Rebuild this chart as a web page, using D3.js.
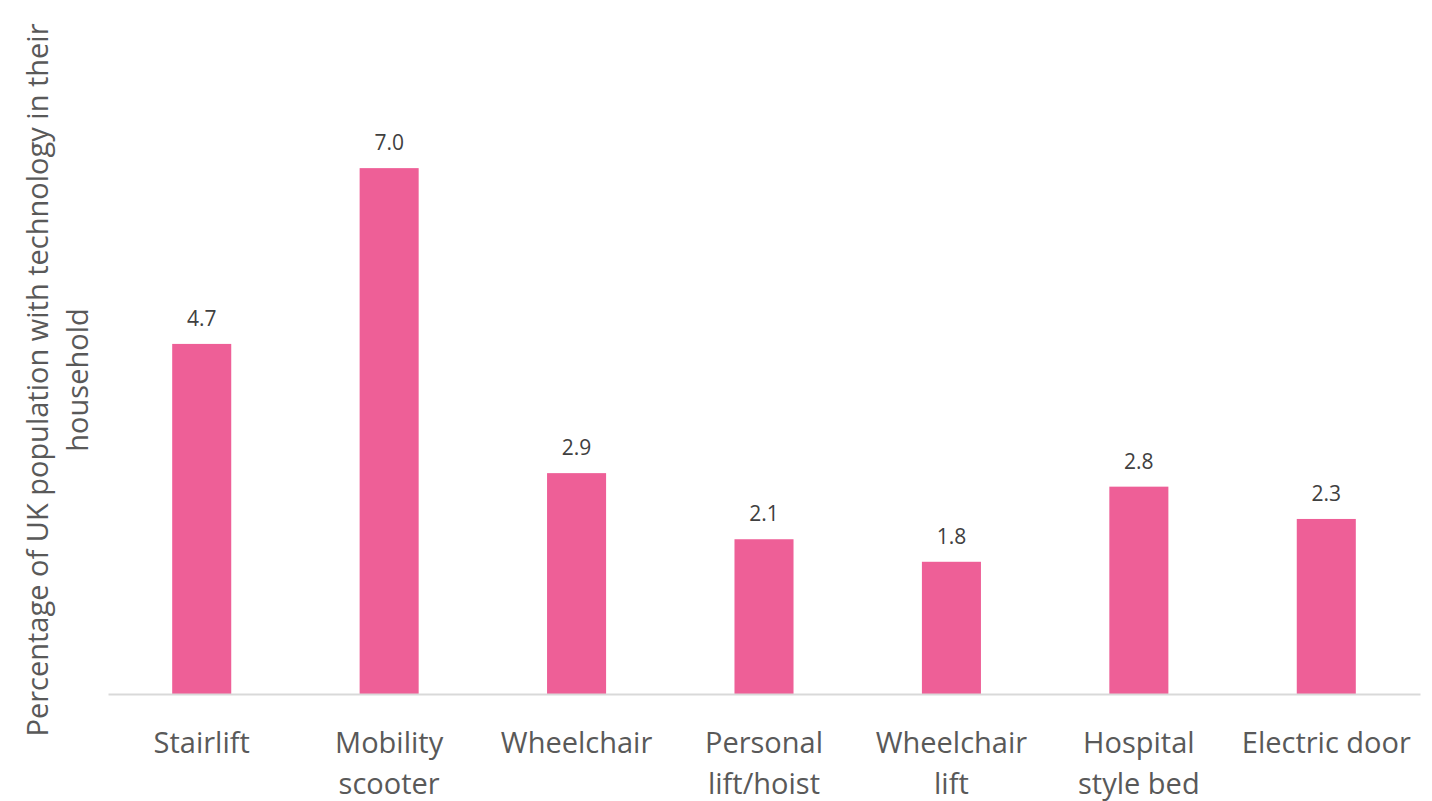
<!DOCTYPE html>
<html>
<head>
<meta charset="utf-8">
<script src="https://cdn.jsdelivr.net/npm/d3@7"></script>
<style>
  body { margin: 0; background: #fff; }
  text { font-family: "Open Sans", "Noto Sans", sans-serif; }
</style>
</head>
<body>
<svg id="chart" width="1432" height="801"></svg>
<script>
// categories, each split on the line break shown in the picture
var categories = ["Stairlift", "Mobility scooter", "Wheelchair", "Personal lift/hoist", "Wheelchair lift", "Hospital style bed", "Electric door"];
var categoryLines = [["Stairlift"], ["Mobility", "scooter"], ["Wheelchair"], ["Personal", "lift/hoist"], ["Wheelchair", "lift"], ["Hospital", "style bed"], ["Electric door"]];
// percentage values (labels shown to 1dp)
var values = [4.66, 7.0, 2.94, 2.06, 1.76, 2.76, 2.33];
var yTitleLines = ["Percentage of UK population with technology in their", "household"];

var svg = d3.select("#chart");
var left = 108, right = 1420, base = 694;

var x = d3.scaleBand().domain(categories).range([left, right]).paddingInner(0.685).paddingOuter(0.3425);
var y = d3.scaleLinear().domain([0, 8]).range([base, 93]);

// bars
svg.selectAll(".bar")
  .data(values)
  .enter().append("rect")
  .attr("class", "bar")
  .attr("x", function(d, i) { return x(categories[i]); })
  .attr("y", function(d) { return y(d); })
  .attr("width", x.bandwidth())
  .attr("height", function(d) { return y(0) - y(d); })
  .attr("fill", "#ee5f97");

// value labels
svg.selectAll(".val")
  .data(values)
  .enter().append("text")
  .attr("class", "val")
  .attr("x", function(d, i) { return x(categories[i]) + x.bandwidth() / 2; })
  .attr("y", function(d) { return y(d) - 18; })
  .attr("text-anchor", "middle")
  .attr("font-size", 21)
  .attr("fill", "#404040")
  .text(function(d) { return d.toFixed(1); });

// x axis, line only
var xAxis = svg.append("g")
  .attr("transform", "translate(0," + base + ")")
  .call(d3.axisBottom(x).tickSize(0).tickFormat(""));
xAxis.select(".domain").attr("stroke", "#d9d9d9").attr("stroke-width", 2);

// category labels
var cat = svg.selectAll(".cat")
  .data(categories)
  .enter().append("text")
  .attr("class", "cat")
  .attr("x", function(d) { return x(d) + x.bandwidth() / 2; })
  .attr("y", 753)
  .attr("text-anchor", "middle")
  .attr("font-size", 29)
  .attr("fill", "#595959");
cat.selectAll("tspan")
  .data(function(d, i) { return categoryLines[i]; })
  .enter().append("tspan")
  .attr("x", function() { return d3.select(this.parentNode).attr("x"); })
  .attr("dy", function(d, i) { return i === 0 ? 0 : 41; })
  .text(function(d) { return d; });

// y title
svg.append("text")
  .attr("transform", "translate(48,380) rotate(-90)")
  .attr("text-anchor", "middle")
  .attr("font-size", 29)
  .attr("fill", "#595959")
  .selectAll("tspan")
  .data(yTitleLines)
  .enter().append("tspan")
  .attr("x", 0)
  .attr("dy", function(d, i) { return i === 0 ? 0 : 40; })
  .text(function(d) { return d; });
</script>
</body>
</html>
